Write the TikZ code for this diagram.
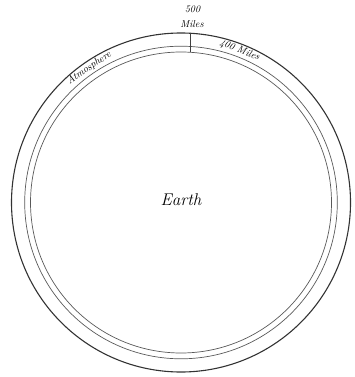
\documentclass[tikz,border=0pt]{standalone}
\usepackage{fontspec}
\usetikzlibrary{calc}
\begin{document}
\begin{tikzpicture}[x=1pt,y=-1pt,
  ring/.style={draw=black!80},
  lab/.style={inner sep=0pt,font=\itshape\fontsize{10}{11}\selectfont\addfontfeatures{LetterSpace=12}},
  biglab/.style={inner sep=0pt,font=\itshape\fontsize{17}{18}\selectfont\addfontfeatures{LetterSpace=10}}]
\useasboundingbox (0,0) rectangle (355,377);
\coordinate (c) at (181,202.5);
\draw[ring,line width=1.1pt] (c) circle[radius=169.5];
\draw[ring,black!65,line width=0.7pt] (c) circle[radius=156.3];
\draw[ring,black!65,line width=0.7pt] (c) circle[radius=150.5];
\coordinate (t1) at (190,32.8);
\coordinate (t2) at (190,52);
\draw[black!75,line width=0.6pt] (t1) -- (t2);
\node[lab] (n500) at (192.5,9) {500};
\node[lab] (miles) at (192,24) {Miles};
\node[lab,rotate=34] (atm) at ($(c)+(-124.3:163)$) {Atmosphere};
\node[lab,rotate=-21] (m400) at ($(c)+(-69:163)$) {400 Miles};
\node[biglab] (earth) at (181,200) {Earth};
\end{tikzpicture}
\end{document}
